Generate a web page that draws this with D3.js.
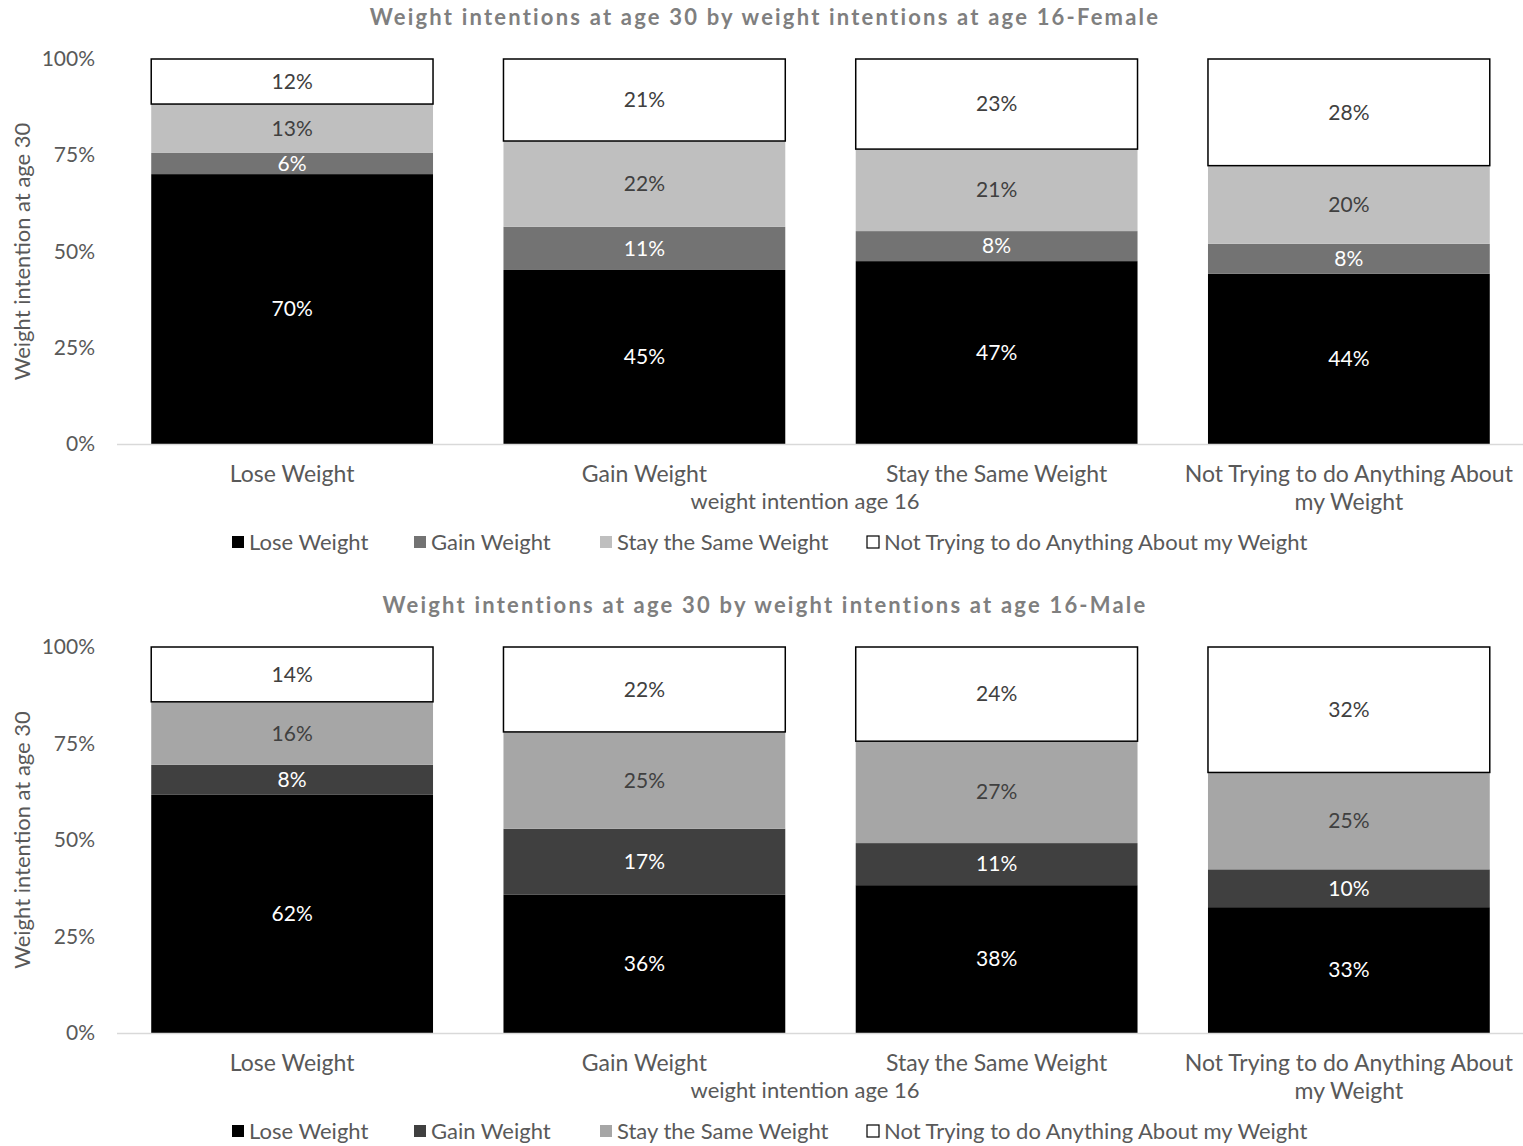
<!DOCTYPE html>
<html><head><meta charset="utf-8">
<script src="https://cdn.jsdelivr.net/npm/d3@7"></script>
<style>
body{margin:0;background:#fff;}
text{font-family:Lato,"Open Sans",sans-serif;}
</style></head>
<body><svg id="c" width="1523" height="1146"></svg>
<script>
const categories = ["Lose Weight","Gain Weight","Stay the Same Weight","Not Trying to do Anything About my Weight"];
const seriesNames = ["Lose Weight","Gain Weight","Stay the Same Weight","Not Trying to do Anything About my Weight"];
const yTicks = [0,25,50,75,100];
// Female panel values (% at age 30), per age-16 category
const femaleLose = [70.1,45.2,47.5,44.2];
const femaleGain = [5.5,11.2,7.8,7.8];
const femaleStay = [12.7,22.3,21.3,20.3];
const femaleNot  = [11.7,21.3,23.4,27.7];
const femaleLabels = [["70%","6%","13%","12%"],["45%","11%","22%","21%"],["47%","8%","21%","23%"],["44%","8%","20%","28%"]];
// Male panel values
const maleLose = [61.7,35.8,38.3,32.6];
const maleGain = [7.8,17.1,10.9,9.8];
const maleStay = [16.3,25.1,26.4,25.1];
const maleNot  = [14.2,22.0,24.4,32.5];
const maleLabels = [["62%","8%","16%","14%"],["36%","17%","25%","22%"],["38%","11%","27%","24%"],["33%","10%","25%","32%"]];

const svg = d3.select("#c");
const textCol = "#595959";

function panel(opt){
  const g = svg.append("g");
  const x = d3.scaleBand().domain(categories).range([116,1525]).paddingInner(0.2).paddingOuter(0.1);
  const y = d3.scaleLinear().domain([0,100]).range([opt.y0,opt.y1]);
  const rows = categories.map((c,i)=>({cat:c, s0:opt.vals[0][i], s1:opt.vals[1][i], s2:opt.vals[2][i], s3:opt.vals[3][i], labels:opt.labels[i]}));
  const stack = d3.stack().keys(["s0","s1","s2","s3"])(rows);
  // title
  g.append("text").attr("x",765).attr("y",opt.titleY).attr("text-anchor","middle")
    .attr("font-size",22).attr("font-weight","bold").attr("fill","#7f7f7f").attr("letter-spacing","2.2px")
    .text(opt.title);
  // y axis
  const ya = g.append("g").attr("transform","translate(117,0)").call(d3.axisLeft(y).tickValues(yTicks).tickFormat(d=>d+"%").tickSize(0).tickPadding(22));
  ya.select(".domain").remove();
  ya.selectAll("text").attr("font-size",21).attr("fill",textCol).attr("font-family","Lato,'Open Sans',sans-serif");
  // y title
  g.append("text").attr("transform",`translate(30,${(opt.y0+opt.y1)/2}) rotate(-90)`).attr("text-anchor","middle")
    .attr("font-size",22).attr("fill",textCol).text("Weight intention at age 30");
  // bars
  stack.forEach((layer,k)=>{
    g.selectAll(null).data(layer).enter().append("rect")
      .attr("x",d=>x(d.data.cat)).attr("width",x.bandwidth())
      .attr("y",d=>y(d[1])).attr("height",d=>y(d[0])-y(d[1]))
      .attr("fill",opt.colors[k])
      .attr("stroke",k===3?"#000":"none").attr("stroke-width",k===3?1.5:0);
    g.selectAll(null).data(layer).enter().append("text")
      .attr("x",d=>x(d.data.cat)+x.bandwidth()/2).attr("y",d=>(y(d[0])+y(d[1]))/2)
      .attr("dy","0.35em").attr("text-anchor","middle").attr("font-size",21)
      .attr("fill",k<2?"#fff":"#404040").text(d=>d.data.labels[k]);
  });
  // x axis
  const xa = g.append("g").attr("transform",`translate(0,${opt.y0})`).call(d3.axisBottom(x).tickSize(0).tickFormat(""));
  xa.select(".domain").attr("d","M117,0.5H1523").attr("stroke","#d9d9d9").attr("stroke-width",1.5);
  const catLines = [["Lose Weight"],["Gain Weight"],["Stay the Same Weight"],["Not Trying to do Anything About","my Weight"]];
  categories.forEach((c,i)=>{
    const t = g.append("text").attr("x",x(c)+x.bandwidth()/2).attr("y",opt.y0+38).attr("text-anchor","middle")
      .attr("font-size",23).attr("fill",textCol);
    catLines[i].forEach((l,j)=>t.append("tspan").attr("x",x(c)+x.bandwidth()/2).attr("dy",j?28:0).text(l));
  });
  g.append("text").attr("x",805).attr("y",opt.y0+65).attr("text-anchor","middle").attr("font-size",22).attr("fill",textCol).text("weight intention age 16");
  // legend
  const legX = [232,414,600,867];
  seriesNames.forEach((s,k)=>{
    g.append("rect").attr("x",legX[k]).attr("y",opt.legY-6).attr("width",12).attr("height",12)
      .attr("fill",opt.colors[k]).attr("stroke",k===3?"#000":"none").attr("stroke-width",1.2);
    g.append("text").attr("x",legX[k]+17).attr("y",opt.legY).attr("dy","0.35em").attr("font-size",22).attr("fill",textCol).text(s);
  });
}

panel({title:"Weight intentions at age 30 by weight intentions at age 16-Female", titleY:25, y0:444, y1:59,
  vals:[femaleLose,femaleGain,femaleStay,femaleNot], labels:femaleLabels,
  colors:["#000000","#737373","#bfbfbf","#ffffff"], legY:542});
panel({title:"Weight intentions at age 30 by weight intentions at age 16-Male", titleY:613, y0:1033, y1:647,
  vals:[maleLose,maleGain,maleStay,maleNot], labels:maleLabels,
  colors:["#000000","#404040","#a6a6a6","#ffffff"], legY:1131});
</script></body></html>
